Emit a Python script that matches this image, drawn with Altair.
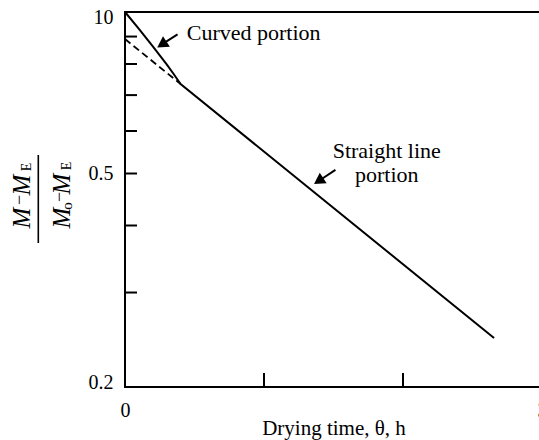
import altair as alt
import pandas as pd

# ---- data ----
solid_t = [0.0, 0.1, 0.2, 0.3, 0.35, 0.4, 2.655]
solid_v = [1.0, 0.9297, 0.8625, 0.7984, 0.7664, 0.734, 0.2468]

dash_t = [0.0, 0.4]
dash_v = [0.8905, 0.734]

y_tick_vals = [0.3, 0.4, 0.5, 0.6, 0.7, 0.8, 0.9]
x_tick_vals = [1, 2]
y_label_vals = [0.2, 0.5, 1.0]
x_label_vals = [0, 3]

ann_text = ["Curved portion", "Straight line", "portion"]
ann_t = [0.444, 1.883, 1.883]
ann_v = [0.8867, 0.5343, 0.4821]
ann_align = ["left", "center", "center"]

arrow_tail_t = [0.378, 1.514]
arrow_tail_v = [0.9081, 0.5077]
arrow_head_t = [0.265, 1.393]
arrow_head_v = [0.8700, 0.4842]

FONT = "Liberation Serif"
W, H = 417, 375

xscale = alt.Scale(domain=[0, 3], nice=False, zero=False)
yscale = alt.Scale(type="log", domain=[0.2, 1.0], nice=False)

xaxis = alt.Axis(
    values=x_label_vals, format="d", ticks=False, tickSize=0, domain=False, grid=False,
    labelFont=FONT, labelFontSize=20, labelColor="black", labelPadding=13,
    labelFlush=False, title="Drying time, θ, h", titleFont=FONT, titleFontSize=21,
    titleFontWeight="normal", titleColor="black", titleBaseline="alphabetic", titleY=47,
)
yaxis = alt.Axis(
    values=y_label_vals, labelExpr="datum.value == 1 ? '10' : format(datum.value, '.1f')",
    ticks=False, tickSize=0, domain=False, grid=False,
    labelFont=FONT, labelFontSize=20, labelColor="black", labelPadding=12,
    labelFlush=True, labelFlushOffset=5, title=None,
)


def X(f):
    return alt.X(f, type="quantitative", scale=xscale, axis=xaxis)


def Y(f):
    return alt.Y(f, type="quantitative", scale=yscale, axis=yaxis)


solid_df = pd.DataFrame({"t": solid_t, "v": solid_v})
dash_df = pd.DataFrame({"t": dash_t, "v": dash_v})

solid = alt.Chart(solid_df).mark_line(color="black", strokeWidth=2).encode(x=X("t"), y=Y("v"))
dashed = alt.Chart(dash_df).mark_line(color="black", strokeWidth=1.8, strokeDash=[7, 4]).encode(
    x=X("t"), y=Y("v"))

ytick = alt.Chart(pd.DataFrame({"v": y_tick_vals})).mark_rule(color="black", strokeWidth=2).encode(
    y=Y("v"), x=alt.value(0), x2=alt.value(12))
xtick = alt.Chart(pd.DataFrame({"t": x_tick_vals})).mark_rule(color="black", strokeWidth=2).encode(
    x=X("t"), y=alt.value(H), y2=alt.value(H - 14))

ann_df = pd.DataFrame({"txt": ann_text, "t": ann_t, "v": ann_v, "al": ann_align})
ann_left = alt.Chart(ann_df[ann_df.al == "left"]).mark_text(
    font=FONT, fontSize=22, fontWeight="normal", color="black", align="left",
    baseline="alphabetic").encode(x=X("t"), y=Y("v"), text="txt:N")
ann_center = alt.Chart(ann_df[ann_df.al == "center"]).mark_text(
    font=FONT, fontSize=22, fontWeight="normal", color="black", align="center",
    baseline="alphabetic").encode(x=X("t"), y=Y("v"), text="txt:N")

arr_df = pd.DataFrame({"t": arrow_tail_t, "v": arrow_tail_v, "t2": arrow_head_t, "v2": arrow_head_v})
shafts = alt.Chart(arr_df).mark_rule(color="black", strokeWidth=2).encode(
    x=X("t"), y=Y("v"), x2="t2:Q", y2="v2:Q")
heads = alt.Chart(arr_df).mark_point(shape="triangle-up", filled=True, color="black",
                                     size=160, angle=237, opacity=1).encode(x=X("t2"), y=Y("v2"))


# ---- y-axis title: (M - M_E) / (M_o - M_E), rotated ----
def piece(txt, x, y, size, italic=False):
    kw = dict(font=FONT, fontSize=size, fontWeight="normal", color="black", align="center",
              baseline="alphabetic", angle=270)
    if italic:
        kw["fontStyle"] = "italic"
    return alt.Chart(pd.DataFrame({"s": [txt]})).mark_text(**kw).encode(
        text="s:N", x=alt.value(x - 125), y=alt.value(y - 12))


title_parts = [
    piece("M", 29.5, 218, 25, True),
    piece("\u2212", 25, 200, 18),
    piece("M", 29.5, 185, 25, True),
    piece("E", 31, 167, 14),
    piece("M", 70, 218, 25, True),
    piece("o", 71.5, 206, 15),
    piece("\u2212", 64.5, 197, 18),
    piece("M", 70, 184, 25, True),
    piece("E", 71, 166, 14),
]
frac_bar = alt.Chart(pd.DataFrame({"a": [0]})).mark_rule(color="black", strokeWidth=1.6).encode(
    x=alt.value(38.3 - 125), y=alt.value(155 - 12), y2=alt.value(243 - 12))

chart = alt.layer(
    solid, dashed, ytick, xtick, ann_left, ann_center, shafts, heads, frac_bar, *title_parts
).properties(
    width=W, height=H,
    autosize=alt.AutoSizeParams(type="none"),
    padding={"left": 125, "top": 12, "right": -3, "bottom": 53},
    background="white",
).configure(font=FONT).configure_view(stroke="black", strokeWidth=2)

chart.save("out.html", embed_options={"renderer": "svg", "actions": False})
